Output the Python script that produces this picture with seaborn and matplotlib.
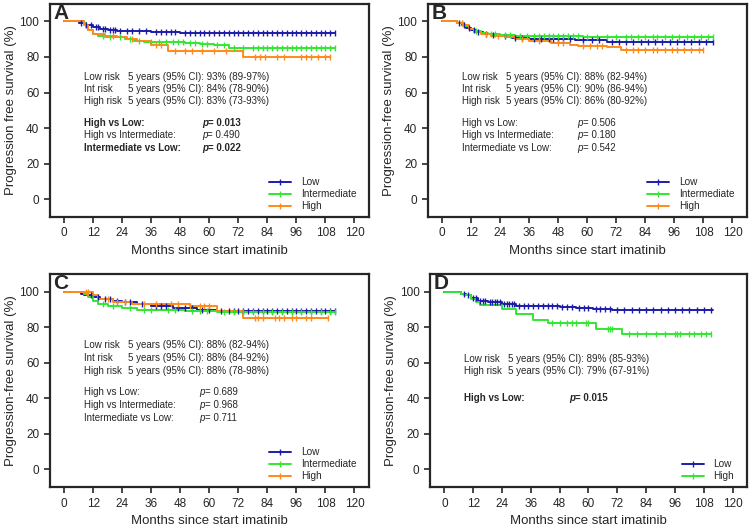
import numpy as np
import pandas as pd
import matplotlib.pyplot as plt
import seaborn as sns
from matplotlib.lines import Line2D

# colours of the three risk groups
C_LOW = '#1c1ca8'
C_INT = '#33e633'
C_HIGH = '#ff8a1c'

# ---- Panel A ----
A_low_t = [0, 6, 9, 12, 15, 18, 22, 36, 48, 112]
A_low_s = [100, 99, 98, 97, 96, 95, 94.5, 94, 93.5, 93.5]
A_low_c = [7, 9, 11, 13, 14, 16, 17, 19, 20, 21, 23, 26, 28, 31, 34, 38, 40, 42, 44, 46, 50, 52,
           54, 56, 58, 60, 62, 64, 66, 68, 70, 72, 74, 76, 78, 80, 82, 84, 86, 88, 90, 92, 94,
           96, 98, 100, 102, 104, 106, 108, 110, 112]
A_int_t = [0, 8, 9, 10, 12, 14, 17, 21, 25, 29, 33, 50, 56, 62, 68, 112]
A_int_s = [100, 99, 97, 95, 93, 92, 91.5, 91, 90, 89, 88.5, 88, 87.5, 86.5, 85, 85]
A_int_c = [16, 19, 23, 27, 31, 36, 39, 42, 45, 47, 49, 52, 54, 57, 59, 63, 66, 70, 74, 78, 80,
           82, 84, 86, 88, 90, 92, 94, 96, 98, 100, 102, 104, 106, 108, 110, 112]
A_high_t = [0, 8, 10, 12, 17, 22, 26, 30, 36, 43, 74, 110]
A_high_s = [100, 98, 95, 93, 92, 91.5, 90, 89, 87, 83.5, 80, 80]
A_high_c = [20, 28, 38, 40, 46, 50, 53, 57, 62, 67, 79, 81, 83, 88, 91, 98, 100, 102, 105, 108, 110]

# ---- Panel B ----
B_low_t = [0, 6, 8, 10, 12, 14, 17, 20, 24, 29, 36, 55, 68, 112]
B_low_s = [100, 99, 98, 96.5, 95, 94, 93, 92.5, 92, 90.5, 90, 89.5, 88.5, 88.5]
B_low_c = [7, 9, 11, 13, 15, 18, 21, 26, 30, 33, 38, 41, 44, 46, 48, 50, 53, 58, 62, 65, 70, 73,
           76, 79, 82, 85, 88, 91, 94, 97, 100, 103, 106, 109, 112]
B_int_t = [0, 6, 9, 11, 13, 16, 19, 24, 30, 58, 112]
B_int_s = [100, 99, 97.5, 96, 94.5, 93.5, 93, 92.5, 92, 91, 91]
B_int_c = [8, 14, 20, 22, 26, 28, 32, 35, 38, 40, 42, 44, 46, 48, 50, 52, 54, 56, 60, 64, 68, 72,
           76, 78, 81, 84, 87, 89, 92, 95, 98, 101, 104, 107, 110, 112]
B_high_t = [0, 6, 9, 11, 13, 16, 20, 26, 30, 36, 45, 53, 56, 68, 74, 108]
B_high_s = [100, 99, 98, 96, 94, 93, 92, 91, 90, 89, 88, 87, 86, 85.5, 84, 84]
B_high_c = [8, 18, 23, 33, 40, 48, 50, 58, 61, 64, 66, 76, 79, 81, 84, 87, 89, 92, 95, 97, 100,
            103, 106, 108]

# ---- Panel C ----
C_low_t = [0, 7, 8, 12, 15, 20, 24, 30, 36, 45, 55, 63, 112]
C_low_s = [100, 99, 98, 97, 96, 95, 94, 93, 92, 91, 90, 89, 89]
C_low_c = [11, 14, 17, 19, 22, 25, 27, 32, 38, 40, 42, 47, 50, 53, 57, 60, 65, 68, 70, 72, 74, 76,
           78, 80, 82, 84, 86, 88, 90, 92, 94, 96, 98, 100, 102, 104, 106, 108, 110, 112]
C_int_t = [0, 8, 10, 12, 14, 18, 24, 30, 40, 50, 63, 112]
C_int_s = [100, 98.5, 97, 95, 93, 92, 91, 90, 89.5, 89, 88.5, 88.5]
C_int_c = [16, 20, 27, 33, 36, 43, 46, 53, 56, 59, 66, 70, 74, 78, 82, 86, 90, 94, 98, 102, 106,
           110, 112]
C_high_t = [0, 12, 14, 20, 28, 52, 63, 74, 109]
C_high_s = [100, 98, 96, 94, 93, 92, 89, 85, 85]
C_high_c = [9, 10, 18, 22, 25, 33, 38, 44, 47, 52, 56, 58, 60, 79, 80, 82, 87, 89, 91, 94, 96,
            100, 102, 109]

# ---- Panel D ----
D_low_t = [0, 7, 9, 11, 14, 18, 24, 30, 48, 55, 62, 70, 112]
D_low_s = [100, 99, 98, 96.5, 95, 94, 93, 92, 91.5, 91, 90.5, 90, 90]
D_low_c = [8, 10, 12, 13, 15, 16, 17, 19, 20, 21, 22, 23, 25, 26, 27, 28, 29, 31, 33, 35, 37, 39,
           41, 43, 45, 47, 49, 51, 53, 56, 58, 60, 63, 65, 67, 69, 72, 75, 78, 81, 84, 87, 90,
           93, 96, 99, 102, 105, 108, 111]
D_high_t = [0, 7, 8, 11, 13, 15, 24, 30, 37, 43, 63, 74, 111]
D_high_s = [100, 99, 98, 96, 94, 92.5, 90.3, 87.5, 84.3, 82.4, 79, 76.5, 76.5]
D_high_c = [45, 48, 51, 53, 55, 59, 60, 68, 69, 70, 77, 80, 84, 88, 92, 96, 97, 98, 102, 104,
            107, 109, 111]

# text blocks
A_risk = [('Low risk', '5 years (95% CI): 93% (89-97%)'),
          ('Int risk', '5 years (95% CI): 84% (78-90%)'),
          ('High risk', '5 years (95% CI): 83% (73-93%)')]
A_pvals = [('High vs Low:', '0.013', True), ('High vs Intermediate:', '0.490', False),
           ('Intermediate vs Low:', '0.022', True)]
B_risk = [('Low risk', '5 years (95% CI): 88% (82-94%)'),
          ('Int risk', '5 years (95% CI): 90% (86-94%)'),
          ('High risk', '5 years (95% CI): 86% (80-92%)')]
B_pvals = [('High vs Low:', '0.506', False), ('High vs Intermediate:', '0.180', False),
           ('Intermediate vs Low:', '0.542', False)]
C_risk = [('Low risk', '5 years (95% CI): 88% (82-94%)'),
          ('Int risk', '5 years (95% CI): 88% (84-92%)'),
          ('High risk', '5 years (95% CI): 88% (78-98%)')]
C_pvals = [('High vs Low:', '0.689', False), ('High vs Intermediate:', '0.968', False),
           ('Intermediate vs Low:', '0.711', False)]
D_risk = [('Low risk', '5 years (95% CI): 89% (85-93%)'),
          ('High risk', '5 years (95% CI): 79% (67-91%)')]
D_pvals = [('High vs Low:', '0.015', True)]

sns.set_style('ticks')
plt.rcParams['font.family'] = ['Liberation Sans', 'DejaVu Sans']
plt.rcParams['axes.linewidth'] = 1.6


def km_curve(ax, t, s, cens, color):
    df = pd.DataFrame({'t': t, 's': s})
    sns.lineplot(data=df, x='t', y='s', ax=ax, color=color, lw=1.4,
                 drawstyle='steps-post', estimator=None, sort=False, zorder=2)
    idx = np.searchsorted(np.asarray(t), np.asarray(cens), side='right') - 1
    cy = np.asarray(s, dtype=float)[idx]
    ax.plot(cens, cy, ls='none', marker='|', ms=5, mew=1.0, color=color, zorder=3)


def panel(ax, letter, ylabel, curves, risk, pvals, ry, py, px):
    for t, s, c, col, name in curves:
        km_curve(ax, t, s, c, col)
    ax.set_xlim(-6, 126)
    ax.set_ylim(-10, 110)
    ax.set_xticks(range(0, 121, 12))
    ax.set_yticks(range(0, 101, 20))
    ax.tick_params(labelsize=8.5, width=1.2, length=4)
    ax.set_xlabel('Months since start imatinib', fontsize=9.5)
    ax.set_ylabel(ylabel, fontsize=9.5, labelpad=2)
    ax.text(0.012, 1.0, letter, transform=ax.transAxes, fontsize=15,
            fontweight='bold', va='top', ha='left')
    for i, (lab, rest) in enumerate(risk):
        ax.text(8, ry[i], lab, fontsize=7, va='center')
        ax.text(26.5, ry[i], rest, fontsize=7, va='center')
    for i, (lab, val, bold) in enumerate(pvals):
        w = 'bold' if bold else 'normal'
        ax.text(8, py[i], lab, fontsize=7, va='center', fontweight=w)
        pt = ax.text(px, py[i], 'p', fontsize=7, va='center', style='italic', fontweight=w)
        ax.annotate('= ' + val, xy=(1, 0), xycoords=pt, va='bottom', ha='left',
                    fontsize=7, fontweight=w)
    handles = [Line2D([], [], color=col, lw=1.4, marker='|', ms=5, mew=1.0)
               for t, s, c, col, name in curves]
    names = [name for t, s, c, col, name in curves]
    ax.legend(handles, names, loc='lower right', frameon=False, fontsize=7.2,
              numpoints=1, handlelength=2.2, handletextpad=1.0, labelspacing=0.2,
              borderaxespad=0.4, bbox_to_anchor=(0.985, -0.01))


fig = plt.figure(figsize=(7.53, 5.29), dpi=100)
axA = fig.add_axes([0.066, 0.590, 0.424, 0.403])
axB = fig.add_axes([0.568, 0.590, 0.424, 0.403])
axC = fig.add_axes([0.066, 0.079, 0.424, 0.403])
axD = fig.add_axes([0.571, 0.079, 0.421, 0.403])

panel(axA, 'A', 'Progression free survival (%)',
      [(A_low_t, A_low_s, A_low_c, C_LOW, 'Low'),
       (A_int_t, A_int_s, A_int_c, C_INT, 'Intermediate'),
       (A_high_t, A_high_s, A_high_c, C_HIGH, 'High')],
      A_risk, A_pvals, [69, 62, 55], [43, 36, 29], 57)
panel(axB, 'B', 'Progression-free survival (%)',
      [(B_low_t, B_low_s, B_low_c, C_LOW, 'Low'),
       (B_int_t, B_int_s, B_int_c, C_INT, 'Intermediate'),
       (B_high_t, B_high_s, B_high_c, C_HIGH, 'High')],
      B_risk, B_pvals, [69, 62, 55], [43, 36, 29], 56)
panel(axC, 'C', 'Progression-free survival (%)',
      [(C_low_t, C_low_s, C_low_c, C_LOW, 'Low'),
       (C_int_t, C_int_s, C_int_c, C_INT, 'Intermediate'),
       (C_high_t, C_high_s, C_high_c, C_HIGH, 'High')],
      C_risk, C_pvals, [70, 62.6, 55.5], [43.6, 36.4, 29.2], 56)
panel(axD, 'D', 'Progression-free survival (%)',
      [(D_low_t, D_low_s, D_low_c, C_LOW, 'Low'),
       (D_high_t, D_high_s, D_high_c, C_INT, 'High')],
      D_risk, D_pvals, [62.4, 55.5], [40.4], 52)

fig.savefig('out.png', dpi=100)
